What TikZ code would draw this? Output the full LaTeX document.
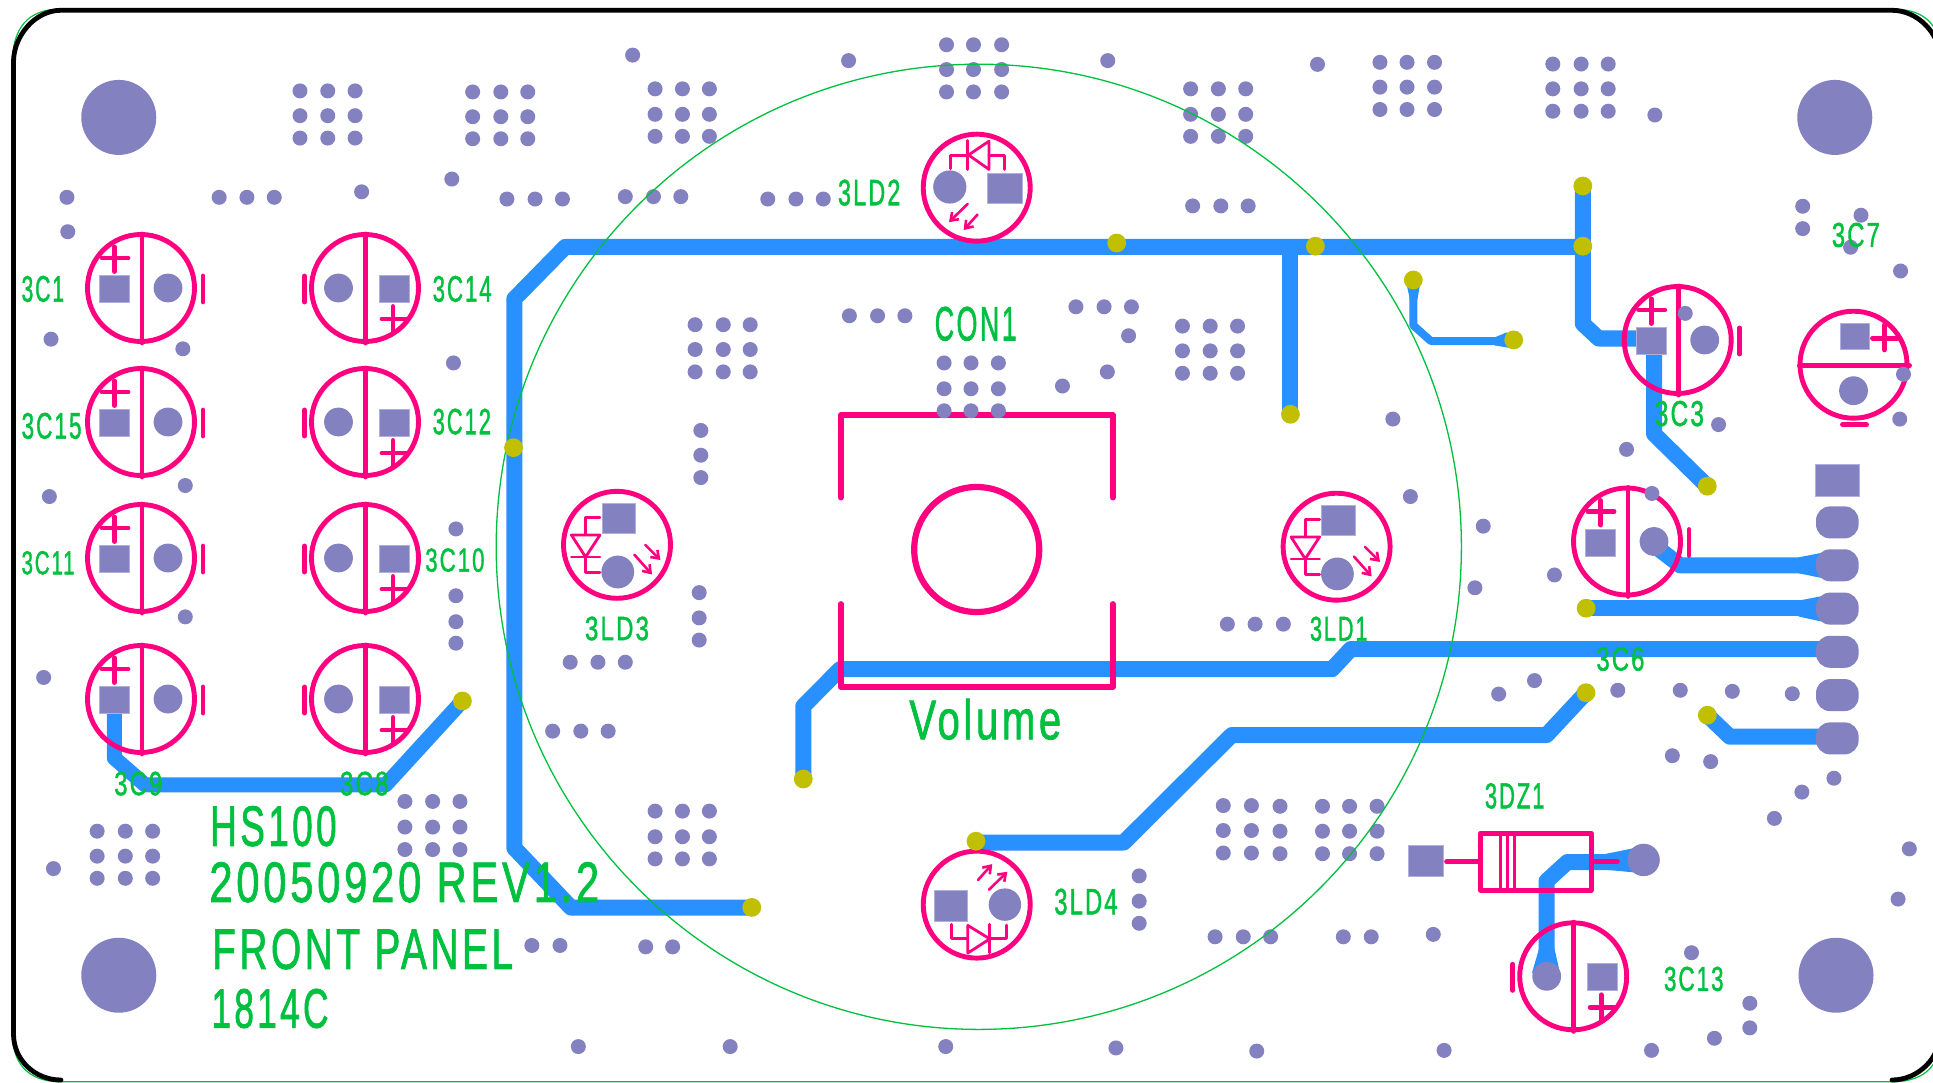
\documentclass[tikz,border=0pt]{standalone}
\usepackage{fontspec}
\setmainfont[FakeBold=1.5,LetterSpace=9]{Liberation Sans}
\usetikzlibrary{arrows.meta}
\definecolor{viac}{RGB}{131,129,191}
\definecolor{padedge}{RGB}{176,176,224}
\definecolor{trace}{RGB}{40,144,255}
\definecolor{pinkc}{RGB}{255,0,128}
\definecolor{silkg}{RGB}{0,192,64}
\definecolor{yellowc}{RGB}{192,192,0}
\tikzset{
  t1/.style={x=.40816pt,y=-.34435pt},
  t2/.style={shift={(0,540)},x=.40816pt,y=-.34626pt},
  t3/.style={shift={(640,0)},x=.40816pt,y=-.34435pt},
  t4/.style={shift={(640,540)},x=.40816pt,y=-.34626pt},
  t5/.style={shift={(1280,0)},x=.41649pt,y=-.34435pt},
  t6/.style={shift={(1280,540)},x=.41649pt,y=-.34626pt},
  via/.style={fill=viac},
  padsq/.style={fill=viac,draw=padedge,line width=.7pt},
  tracel/.style={draw=trace,line width=16pt,line join=round},
  pink/.style={draw=pinkc,line width=4.9pt,line cap=round,line join=round},
  pinkthin/.style={draw=pinkc,line width=2.8pt,line cap=round,line join=round},
  pinkarrow/.style={draw=pinkc,line width=2.6pt,line cap=round,-{Straight Barb[length=7pt,width=10pt]}},
  silkt/.style={inner sep=0pt,outer sep=0pt,anchor=south west,text=silkg},
  drill/.style={fill=yellowc},
}
\newcommand\vias[1]{\foreach \a/\b in {#1} {\fill[via] (\a,\b) circle[radius=7.5pt];}}
\newcommand\gridv[2]{\foreach \a in {#1} {\foreach \b in {#2} {\fill[via] (\a,\b) circle[radius=7.5pt];}}}
\newcommand\silk[6]{\node[silkt] (#1) at (#2,#3) {\resizebox{#4pt}{#5pt}{#6}};}
\newcommand\capL[2]{\begin{scope}[shift={(#1,#2)}]
  \draw[pink] (0,0) circle[radius=53.5pt];
  \draw[pink] (1,-54)--(1,55);
  \draw[pink] (-39,-30)--(-13,-30) (-26.5,-41)--(-26.5,-16.5);
  \draw[pink] (62,-12)--(62,14);
  \fill[padsq] (-41.5,-12.5) rectangle (-11.5,14.5);
  \fill[via] (27,0) circle[radius=14.4pt];
\end{scope}}
\newcommand\capR[2]{\begin{scope}[shift={(#1,#2)}]
  \draw[pink] (0,0) circle[radius=53.5pt];
  \draw[pink] (0.5,-54)--(0.5,55);
  \draw[pink] (17,31)--(41,31) (28,18.5)--(28,44.5);
  \draw[pink] (-60.5,-12)--(-60.5,14);
  \fill[padsq] (14.5,-12.5) rectangle (44,14.5);
  \fill[via] (-26.5,0) circle[radius=14.4pt];
\end{scope}}
\newcommand\ledside[2]{\begin{scope}[shift={(#1,#2)}]
  \draw[pink] (0,0) circle[radius=53.5pt];
  \draw[pinkthin] (-45.6,-9.8)--(-17,-9.8)--(-31.4,12.2)--cycle;
  \draw[pinkthin] (-45.6,12.2)--(-17,12.2);
  \draw[pinkthin] (-31.4,-9.8)--(-31.4,-27)--(-17,-27);
  \draw[pinkthin] (-31.4,12.2)--(-31.4,28)--(-17,28);
  \draw[pinkarrow] (17.4,9.9)--(35,29.7);
  \draw[pinkarrow] (28.4,0.2)--(43.4,15.2);
  \fill[padsq] (-15,-41.5) rectangle (18.5,-11);
  \fill[via] (0.8,27.2) circle[radius=16.4pt];
\end{scope}}
\begin{document}
\begin{tikzpicture}[x=1pt,y=-1pt]
\useasboundingbox (0,0) rectangle (1933,1083);
\fill[white] (0,0) rectangle (1933,1083);
\clip (0,0) rectangle (1933,1083);
% traces
\draw[tracel] (751.8,907.6)--(571,907.6)--(514.3,848)--(514.3,298.9)--(565.3,246.9)--(1582.8,246.9);
\draw[tracel] (1582.8,186)--(1582.8,323.7)--(1598.6,338.5)--(1651.5,338.5);
\draw[tracel] (1654,338.5)--(1654,433.9)--(1707.3,486.2);
\draw[tracel] (1290.4,246.9)--(1290.4,414.3);
\draw[tracel,line width=15pt] (114.3,713)--(114.3,758)--(145,784.8)--(385.7,784.8)--(462.4,701);
\draw[tracel] (803.3,779)--(803.3,706.2)--(840,669.2)--(1332,669.2)--(1350.8,649)--(1837,649);
\draw[tracel] (976,842.5)--(1123.7,842.5)--(1231.8,735)--(1546.6,735)--(1586,692.7);
\draw[tracel] (1653.6,545)--(1680,565.3)--(1837,565.3);
\draw[tracel] (1586.1,608.2)--(1837,608.2);
\draw[tracel] (1707.3,715.2)--(1729.8,736.7)--(1837,736.7);
\draw[tracel] (1643.6,862)--(1567.4,862)--(1546.6,881)--(1546.6,976.3);
\draw[tracel,line width=8pt] (1413.3,280)--(1413.3,325.4)--(1430.8,341)--(1513.7,341);
\begin{scope}[t5]
  \fill[trace] (303,820)--(337,820)--(330,870)--(312,870)--cycle;
  \fill[trace] (515,980)--(545,965)--(560,1012)--(515,1003)--cycle;
\end{scope}
\begin{scope}[t6]
  \fill[trace] (1245,50)--(1310,35)--(1310,112)--(1245,96)--cycle;
  \fill[trace] (1245,175)--(1310,160)--(1310,238)--(1245,221)--cycle;
  \fill[trace] (622,1180)--(659,1180)--(672,1250)--(605,1250)--cycle;
  \fill[trace] (780,907)--(850,890)--(850,960)--(780,952)--cycle;
\end{scope}
% capacitors
\capL{141}{288}\capL{141}{422}\capL{141}{558}\capL{141}{699}
\capR{365}{288}\capR{365}{422}\capR{365}{558}\capR{365}{699}
\capL{1677.7}{340}\capL{1627}{541.5}
\capR{1573.2}{976.3}
\begin{scope}[shift={(1853.5,364.7)}]
  \draw[pink] (0,0) circle[radius=53.5pt];
  \draw[pink] (-54,1)--(56,1);
  \draw[pink] (19,-26.5)--(44,-26.5) (31,-39.6)--(31,-14.8);
  \draw[pink] (-11,60)--(13,60);
  \fill[padsq] (-13.5,-41) rectangle (15.5,-15);
  \fill[via] (0,26) circle[radius=14.4pt];
\end{scope}
% LEDs
\ledside{617}{544.8}
\ledside{1336.6}{546.7}
\begin{scope}[t3]
  \draw[pink] (825,545) circle[radius=53.5pt];
  \draw[pinkthin] (855,410)--(855,492)--(805,450)--cycle;
  \draw[pinkthin] (803,408)--(803,492);
  \draw[pinkthin] (760,490)--(760,452)--(803,452);
  \draw[pinkthin] (855,452)--(893,452)--(893,492);
  \draw[pinkarrow] (803,592)--(757,645);
  \draw[pinkarrow] (827,623)--(793,668);
  \fill[via] (759,543) circle[radius=16.6pt];
  \fill[padsq] (851,502) rectangle (937,590);
\end{scope}
\begin{scope}[t4]
  \draw[pink] (825,1053) circle[radius=53.5pt];
  \draw[pinkthin] (803,1113)--(803,1193)--(857,1152)--cycle;
  \draw[pinkthin] (857,1110)--(857,1192);
  \draw[pinkthin] (763,1110)--(763,1152)--(803,1152);
  \draw[pinkthin] (857,1152)--(897,1152)--(897,1112);
  \draw[pinkarrow] (828,982)--(863,936);
  \draw[pinkarrow] (855,1010)--(900,958);
  \fill[padsq] (722,1012) rectangle (803,1100);
  \fill[via] (894,1053) circle[radius=16.2pt];
\end{scope}
% volume
\draw[pink,line width=5.8pt] (840.8,497.6)--(840.8,415)--(1112.7,415)--(1112.7,497.6);
\draw[pink,line width=5.8pt] (840.8,604)--(840.8,687.2)--(1112.7,687.2)--(1112.7,604);
\draw[pink,line width=6.2pt] (976.7,549.5) circle[radius=62.5pt];
% zener
\begin{scope}[t6]
  \draw[pink] (481,847) rectangle (747,1011);
  \draw[pink,line width=3pt] (530,847)--(530,1011) (545,847)--(545,1011) (562,847)--(562,1011);
  \draw[pink] (400,929)--(481,929) (747,929)--(810,929);
  \fill[padsq] (308,882) rectangle (392,972);
  \fill[via] (873,924) circle[radius=16.2pt];
\end{scope}
% connector pads
\fill[padsq] (1815.2,464.2) rectangle (1859.8,495.9);
\foreach \y in {522.4,565.3,608.6,651.8,695.1,738.4} {\fill[via,rounded corners=14pt] (1816,\y-16) rectangle (1858.6,\y+16);}
% vias and mounting holes
\begin{scope}[t1]
  \gridv{735,803,870}{264,336,401}
  \gridv{1158,1227,1293}{267,339,403}
  \vias{1550/160,164/573,537/573,605/573,672/573,886/557,1107/520,1242/578,1311/578,1378/578,1532/571,166/673,125/985,448/1013,1111/1054,454/1410,121/1442,1117/1536}
  \fill[via] (291,341) circle[radius=37.5pt];
\end{scope}
\begin{scope}[t2]
  \vias{454/222,1117/161,1117/236,1117/298,107/397,1397/353,1465/353,1532/353,1354/552,1423/552,1490/552,131/949,1303/1171,1372/1171,1417/1463}
  \gridv{992,1060,1127}{755,829,894}
  \gridv{238,307,374}{841,913,977}
  \fill[via] (291,1257) circle[radius=37.5pt];
\end{scope}
\begin{scope}[t3]
  \gridv{751,817,886}{130,202,267}
  \gridv{37,104,170}{258,332,396}
  \gridv{1349,1417,1484}{258,332,396}
  \gridv{135,204,270}{943,1015,1080}
  \gridv{1329,1397,1464}{947,1019,1084}
  \gridv{745,811,878}{1054,1129,1193}
  \vias{511/176,1146/176,33/571,100/571,313/578,382/578,449/578,1354/598,1423/598,1490/598,513/917,582/917,649/917,1068/891,1137/891,1204/891,1197/975,1035/1121,1145/1080,149/1250,149/1322,149/1387}
\end{scope}
\begin{scope}[t4]
  \vias{145/152,145/225,145/289,1439/243,1507/243,1223/970,1223/1043,1223/1107,1409/1146,1478/1146,1545/1146,221/1463,749/1463,1166/1467,1511/1476,14/1175,80/1175}
  \gridv{37,104,170}{783,857,921}
  \gridv{1429,1498}{767,839,904}
\end{scope}
\begin{scope}[t5]
  \gridv{240,305,371}{181,253,318}
  \gridv{655,723,788}{186,258,323}
  \vias{90/187,900/334,1255/599,1255/664,1395/625,1370/718,1490/787,271/1217,313/1442,488/1528,1053/1233,832/1305,1488/1217,893/1433,973/910,1497/1087}
  \fill[via] (1332,341) circle[radius=37.5pt];
\end{scope}
\begin{scope}[t6]
  \gridv{0,102,167,233}{769,841,906}
  \vias{8/243,468/138,659/101,525/445,611/406,811/434,961/434,1086/437,1230/444,942/623,1034/640,1330/688,1253/728,1187/804,1511/892,1484/1037,152/1146,219/1146,368/1139,988/1192,1128/1338,1128/1409,1043/1439,394/1474,892/1474}
  \fill[via] (1335,1257) circle[radius=37.5pt];
\end{scope}
% board outline
\draw[silkg,line width=1.2pt] (61,1081.8) .. controls (25,1081.8) and (12.5,1060) .. (12.5,1034) -- (12.5,62) .. controls (12.5,28) and (28,9) .. (61,9) -- (1892,9) .. controls (1928,9) and (1941,28) .. (1941,58) -- (1941,1034) .. controls (1941,1062) and (1928,1081.8) .. (1892,1081.8) -- cycle;
\draw[black,line width=4.8pt,line cap=round] (61,1080) .. controls (35,1080) and (13.5,1060) .. (13.5,1034) -- (13.5,62) .. controls (13.5,36) and (35,10.3) .. (61,10.3) -- (1892,10.3) .. controls (1918,10.3) and (1940,34) .. (1940,58) -- (1940,1034) .. controls (1940,1058) and (1918,1080) .. (1892,1080);
% keep-out circle
\draw[silkg,line width=1.3pt] (978.8,546.8) circle[radius=482.6pt];
% text
\silk{c1}{21.6}{302}{42.5}{25.8}{3C1}
\silk{c14}{432.7}{302}{59}{25.8}{3C14}
\silk{c15}{21.6}{439}{60}{25.8}{3C15}
\silk{c12}{432.7}{434.6}{58.3}{25.6}{3C12}
\silk{c11}{21.6}{574.6}{53}{23.2}{3C11}
\silk{c10}{425.3}{571.9}{59.2}{23.2}{3C10}
\silk{ld3}{585}{640.4}{64}{23.5}{3LD3}
\silk{c9}{114.3}{795.5}{48}{23.5}{3C9}
\silk{c8}{340}{795.5}{48.6}{23.5}{3C8}
\silk{t1}{210.2}{846.4}{126.5}{39.8}{HS100}
\silk{t2}{209.4}{902.5}{389.8}{39.8}{20050920 REV1.2}
\silk{t3}{212.2}{969.4}{300.8}{39.9}{FRONT PANEL}
\silk{t4}{211.4}{1028.2}{117.2}{38.8}{1814C}
\silk{ld2}{838}{205.6}{62.4}{25.6}{3LD2}
\silk{con}{934.7}{340.9}{82}{33.7}{CON1}
\silk{vol}{909.4}{739.8}{151.8}{40.5}{Volume}
\silk{ld4}{1054.3}{914.7}{63.3}{25.7}{3LD4}
\silk{c7}{1831.9}{247.2}{47.9}{24.1}{3C7}
\silk{c3}{1654.8}{426.3}{49.2}{25.1}{3C3}
\silk{ld1}{1310}{641}{57.5}{24.1}{3LD1}
\silk{c6}{1596.5}{670.9}{47.9}{23.6}{3C6}
\silk{dz}{1484.9}{808.7}{59.6}{25.3}{3DZ1}
\silk{c13}{1664}{991.2}{59.6}{24.2}{3C13}
% drill points
\foreach \x/\y in {513.5/447.7,462.4/701,751.8/907.4,803.3/779,976/841.2,1116.7/243,1315.4/246.2,1582.8/186,1582.8/246.2,1290.4/414.3,1413.3/280,1513.7/339.9,1707.3/486.2,1586.1/608.2,1586/692.7,1707.3/715.2}
  {\fill[drill] (\x,\y) circle[radius=9.4pt];}
\end{tikzpicture}
\end{document}
